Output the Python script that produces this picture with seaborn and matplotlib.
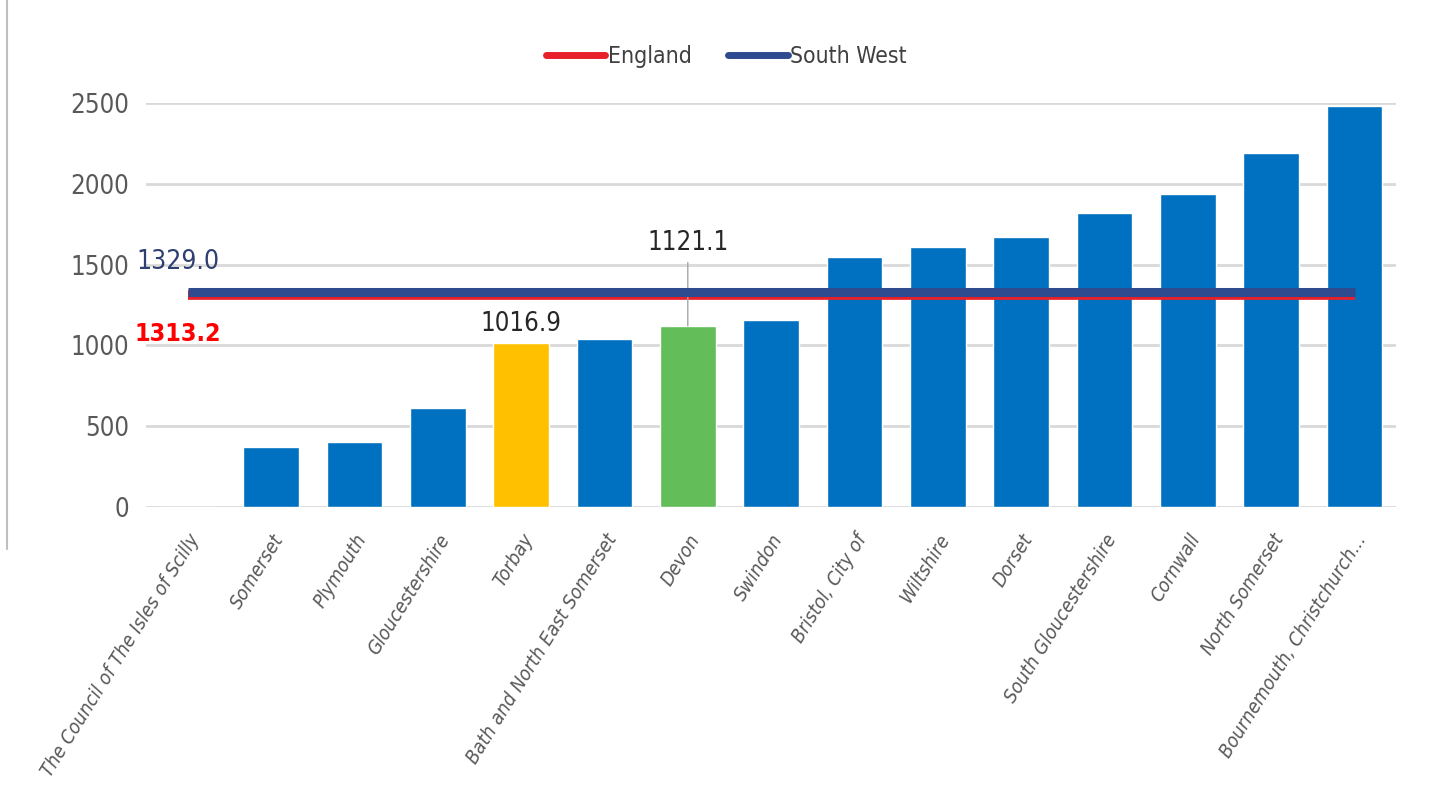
import numpy as np
import matplotlib
matplotlib.use('Agg')
import matplotlib.pyplot as plt
from matplotlib.lines import Line2D
import seaborn as sns

sns.set_theme(style='white')
plt.rcParams['font.family'] = ['DejaVu Sans']
plt.rcParams['font.stretch'] = 'condensed'

# Data
areas = ['The Council of The Isles of Scilly', 'Somerset', 'Plymouth', 'Gloucestershire',
         'Torbay', 'Bath and North East Somerset', 'Devon', 'Swindon', 'Bristol, City of',
         'Wiltshire', 'Dorset', 'South Gloucestershire', 'Cornwall', 'North Somerset',
         'Bournemouth, Christchurch...']
rates = [0, 374, 400, 615, 1016.9, 1043, 1121.1, 1158, 1545, 1609, 1671, 1818, 1940, 2192, 2485]
england_avg = 1313.2
south_west_avg = 1329.0

bar_colours = ['#0070C0'] * len(areas)
bar_colours[areas.index('Torbay')] = '#FFC000'
bar_colours[areas.index('Devon')] = '#63BE5A'

fig = plt.figure(figsize=(14.32, 7.96), dpi=100)
ax = fig.add_axes([0.102, 0.363, 0.873, 0.5075])

sns.barplot(x=areas, y=rates, hue=areas, palette=bar_colours, legend=False,
            width=0.67, saturation=1, ax=ax, zorder=2)

pos = np.arange(len(areas))
ax.plot(pos, [england_avg] * len(pos), color='#E8202A', lw=7, zorder=3,
        solid_capstyle='butt', label='England')
ax.plot(pos, [south_west_avg] * len(pos), color='#2F4B8F', lw=6.5, zorder=4,
        solid_capstyle='butt', label='South West')

# Grid
ax.set_ylim(0, 2500)
ax.set_xlim(-0.5, len(areas) - 0.5)
ax.set_yticks([0, 500, 1000, 1500, 2000, 2500])
ax.yaxis.grid(True, color='#D9D9D9', lw=2, zorder=0)
ax.set_axisbelow(True)
for s in ax.spines.values():
    s.set_visible(False)
ax.tick_params(axis='y', length=0, pad=12, labelsize=18.5, labelcolor='#595959')
ax.tick_params(axis='x', length=0, pad=17)
ax.set_xticks(pos)
ax.set_xticklabels(areas, rotation=58, ha='right', rotation_mode='anchor',
                   fontsize=14, style='italic', color='#595959')

# Labels for averages
ax.annotate(f'{south_west_avg:.1f}', xy=(0, south_west_avg), xytext=(-7, 22),
            textcoords='offset points', ha='center', va='center',
            fontsize=19, color='#2F3F6F')
ax.annotate(f'{england_avg:.1f}', xy=(0, england_avg), xytext=(-7, -28),
            textcoords='offset points', ha='center', va='center',
            fontsize=18, color='#FF0000', fontweight='bold')

# Highlighted bar labels
i_t = areas.index('Torbay')
ax.annotate(f'{rates[i_t]:.1f}', xy=(i_t, rates[i_t]), xytext=(0, 4),
            textcoords='offset points', ha='center', va='bottom',
            fontsize=18.5, color='#262626')
i_d = areas.index('Devon')
ax.annotate(f'{rates[i_d]:.1f}', xy=(i_d, rates[i_d]), xytext=(0, 50),
            textcoords='offset points', ha='center', va='bottom',
            fontsize=18.5, color='#262626',
            arrowprops=dict(arrowstyle='-', color='#A6A6A6', lw=1, shrinkA=2, shrinkB=0))

ax.set_xlabel('')
ax.set_ylabel('')

leg = ax.legend(handles=[Line2D([], [], color='#E8202A', lw=5),
                         Line2D([], [], color='#2F4B8F', lw=5)],
                labels=['England', 'South West'], loc='center',
                bbox_to_anchor=(0.464, 1.115), ncol=2, frameon=False,
                fontsize=16.5, handlelength=2.6, handletextpad=0.1, columnspacing=1.6)
for t in leg.get_texts():
    t.set_color('#404040')

fig.add_artist(Line2D([0.005, 0.005], [1, 0.31], color='#BFBFBF', lw=1.5))

fig.savefig('out.png', dpi=100)
